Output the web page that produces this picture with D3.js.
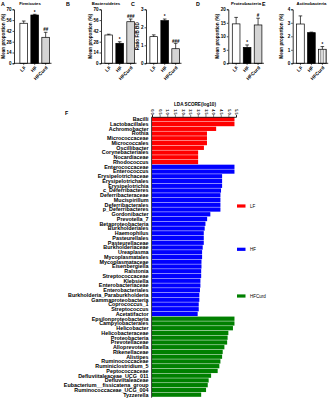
<!DOCTYPE html>
<html><head><meta charset="utf-8">
<script src="https://cdn.jsdelivr.net/npm/d3@7"></script>
<style>body{margin:0;background:#fff}svg{display:block;font-family:"Liberation Sans",Arial,sans-serif}</style>
</head><body><div id="c"></div>
<script>
// ---------- data ----------
const groups = ["LF", "HF", "HFCurd"];
const firmicutes = [51.9, 62.6, 33.7];
const firmicutesErr = [2.9, 0.9, 6.5];
const firmicutesSig = ["", "*", "##"];
const bacteroidetes = [36.7, 25.9, 53.9];
const bacteroidetesErr = [1.0, 2.0, 3.5];
const bacteroidetesSig = ["", "*", "###"];
const ratioFB = [1.48, 2.37, 0.81];
const ratioFBErr = [0.1, 0.09, 0.3];
const ratioFBSig = ["", "*", "###"];
const proteobacteria = [14.6, 5.9, 14.2];
const proteobacteriaErr = [2.4, 0.9, 2.5];
const proteobacteriaSig = ["", "*", "#"];
const actinobacteria = [2.91, 2.27, 1.04];
const actinobacteriaErr = [0.6, 0.04, 0.2];
const actinobacteriaSig = ["", "", "*"];
const ticks70 = [0, 14, 28, 42, 56, 70];
const ticks3 = [0, 1, 2, 3];
const ticks20 = [0, 5, 10, 15, 20];
const ticks4 = [0, 1, 2, 3, 4];

const lfTaxa = ["Bacilli","Lactobacillales","Achromobacter","Rothia","Micrococcaceae","Micrococcales","Oscillibacter","Corynebacteriales","Nocardiaceae","Rhodococcus"];
const lfScores = [5.4, 5.4, 4.2, 3.6, 3.6, 3.6, 3.4, 3.02, 3.02, 3.02];
const hfTaxa = ["Enterococcaceae","Enterococcus","Erysipelotrichaceae","Erysipelotrichales","Erysipelotrichia","c_Deferribacteres","Deferribacteraceae","Mucispirillum","Deferribacterales","p_Deferribacteres","Gordonibacter","Prevotella_7","Betaproteobacteria","Burkholderiales","Haemophilus","Pasteurellales","Pasteurellaceae","Burkholderiaceae","Ureaplasma","Mycoplasmatales","Mycoplasmataceae","Eisenbergiella","Ralstonia","Streptococcaceae","Klebsiella","Enterobacteriaceae","Enterobacteriales","Burkholderia_Paraburkholderia","Gammaproteobacteria","Coprococcus_1","Streptococcus","Acetatifactor"];
const hfScores = [5.4, 5.4, 4.59, 4.59, 4.59, 4.52, 4.48, 4.48, 4.48, 4.48, 3.82, 3.61, 3.5, 3.45, 3.39, 3.39, 3.39, 3.32, 3.28, 3.28, 3.24, 3.24, 3.22, 3.22, 3.17, 3.17, 3.14, 3.1, 3.1, 3.06, 3.06, 2.99];
const hfcTaxa = ["Epsilonproteobacteria","Campylobacterales","Helicobacter","Helicobacteraceae","Proteobacteria","Prevotellaceae","Alloprevotella","Rikenellaceae","Alistipes","Ruminococcaceae","Ruminiclostridium_5","Peptococcaceae","Defluviitaleaceae_UCG_011","Defluviitaleaceae","Eubacterium__fissicatena_group","Ruminococcaceae_UCG_004","Tyzzerella"];
const hfcScores = [5.4, 5.4, 5.3, 5.0, 4.95, 4.92, 4.74, 4.63, 4.59, 4.48, 4.41, 4.3, 3.87, 3.71, 3.65, 3.54, 3.22];
const ldaTicks = [0, 0.5, 1, 1.5, 2, 2.5, 3, 3.5, 4, 4.5, 5, 5.5];
const legendNames = ["LF", "HF", "HFCurd"];

// ---------- drawing ----------
const W = 333, H = 400;
const svg = d3.select("#c").append("svg").attr("width", W).attr("height", H);
const defs = svg.append("defs");
defs.append("pattern").attr("id","vstripe").attr("patternUnits","userSpaceOnUse")
  .attr("width",1.6).attr("height",4)
  .append("rect").attr("width",0.7).attr("height",4).attr("fill","#888");

const panels = [
  {letter:"A", title:"Firmicutes", titleX:30, ylab:"Mean proportion (%)", vals:firmicutes, err:firmicutesErr, sig:firmicutesSig, ticks:ticks70, axisX:14, barX:19.3, curd:"#d4d4d4"},
  {letter:"B", title:"Bacteroidetes", titleX:106, ylab:"Mean proportion (%)", vals:bacteroidetes, err:bacteroidetesErr, sig:bacteroidetesSig, ticks:ticks70, axisX:101, barX:104.3, curd:"#d4d4d4"},
  {letter:"C", title:"", titleX:0, ylab:"Ratio F/B BD", vals:ratioFB, err:ratioFBErr, sig:ratioFBSig, ticks:ticks3, axisX:146, barX:149.3, curd:"#d4d4d4"},
  {letter:"D", title:"Proteobacteria", titleX:246, ylab:"Mean proportion (%)", vals:proteobacteria, err:proteobacteriaErr, sig:proteobacteriaSig, ticks:ticks20, axisX:228.3, barX:231.7, curd:"#d4d4d4"},
  {letter:"E", title:"Actinobacteria", titleX:311.5, ylab:"Mean proportion (%)", vals:actinobacteria, err:actinobacteriaErr, sig:actinobacteriaSig, ticks:ticks4, axisX:292.7, barX:296, curd:"url(#vstripe)"}
];
const letterX = [1, 66, 131, 196, 262];

panels.forEach((p, i) => {
  const g = svg.append("g");
  const yMax = p.ticks[p.ticks.length - 1];
  const y = d3.scaleLinear().domain([0, yMax]).range([63.3, 9.3]);
  const x = d3.scaleBand().domain(groups).range([p.barX - 1.6, p.barX + 32.4]).paddingInner(0.3).paddingOuter(0.2);
  g.append("text").attr("x", letterX[i]).attr("y", 5.5).text(p.letter)
    .attr("font-size", 5.3).attr("font-weight", "bold");
  if (p.title) g.append("text").attr("x", p.titleX).attr("y", 5).text(p.title)
    .attr("font-size", 4.3).attr("font-weight", "bold").attr("text-anchor", "middle");
  // y axis
  const ya = g.append("g").attr("transform", `translate(${p.axisX},0)`)
    .call(d3.axisLeft(y).tickValues(p.ticks).tickSize(1.5).tickPadding(1).tickFormat(d3.format("d")));
  ya.selectAll("text").attr("font-size", 4.6).attr("font-weight","bold").attr("font-family","Liberation Sans, Arial");
  ya.select(".domain").attr("stroke-width", 0.8);
  ya.selectAll(".tick line").attr("stroke-width", 0.7);
  g.append("text").attr("transform", `translate(${p.axisX - (i === 2 ? 7.5 : 9.5)},36.3) rotate(-90)`)
    .attr("text-anchor", "middle").attr("font-size", 4.6).attr("font-weight","bold").text(p.ylab);
  // bars
  const fills = ["#ffffff", "#000000", p.curd];
  g.selectAll("rect.bar").data(p.vals).join("rect").attr("class","bar")
    .attr("x", (d, j) => x(groups[j])).attr("width", x.bandwidth())
    .attr("y", d => y(d)).attr("height", d => y(0) - y(d))
    .attr("fill", (d, j) => fills[j]).attr("stroke", "#000").attr("stroke-width", 0.7);
  // error bars (upward)
  p.vals.forEach((v, j) => {
    const cx = x(groups[j]) + x.bandwidth() / 2;
    const top = y(v + p.err[j]);
    g.append("line").attr("x1", cx).attr("x2", cx).attr("y1", y(v)).attr("y2", top).attr("stroke", "#000").attr("stroke-width", 0.7);
    g.append("line").attr("x1", cx - 1.8).attr("x2", cx + 1.8).attr("y1", top).attr("y2", top).attr("stroke", "#000").attr("stroke-width", 0.7);
    if (p.sig[j]) g.append("text").attr("x", cx).attr("y", top - 0.8).attr("text-anchor","middle")
      .attr("font-size", 4.5).attr("font-weight","bold").text(p.sig[j]);
  });
  // x axis
  const xEnd = x(groups[2]) + x.bandwidth() + 2;
  g.append("line").attr("x1", p.axisX).attr("x2", xEnd).attr("y1", 63.3).attr("y2", 63.3).attr("stroke","#000").attr("stroke-width",0.8);
  groups.forEach((gname) => {
    const cx = x(gname) + x.bandwidth() / 2;
    g.append("line").attr("x1", cx).attr("x2", cx).attr("y1", 63.3).attr("y2", 64.8).attr("stroke","#000").attr("stroke-width",0.7);
    g.append("text").attr("transform", `translate(${cx + 1.5},67) rotate(-45)`)
      .attr("text-anchor","end").attr("dy","0.3em").attr("font-size", 4.8).attr("font-weight","bold").text(gname);
  });
});

// ---------- panel F: LDA ----------
const colors = {LF:"#ff0000", HF:"#0000ff", HFCurd:"#008000"};
const rows = [];
lfTaxa.forEach((t, i) => rows.push({name:t, score:lfScores[i], grp:"LF"}));
hfTaxa.forEach((t, i) => rows.push({name:t, score:hfScores[i], grp:"HF"}));
hfcTaxa.forEach((t, i) => rows.push({name:t, score:hfcScores[i], grp:"HFCurd"}));

const axisY = 116.8;
const fx = d3.scaleLinear().domain([0, 5.5]).range([152, 236]);
const fy = d3.scaleBand().domain(d3.range(rows.length)).range([117.2, 396.8]).paddingInner(0.1);
const F = svg.append("g");
F.append("text").attr("x", 65).attr("y", 115).text("F").attr("font-size", 5.3).attr("font-weight","bold");
F.append("text").attr("x", 195).attr("y", 105.5).attr("text-anchor","middle")
  .attr("font-size", 4.6).attr("font-weight","bold").text("LDA SCORE(log10)");
F.selectAll("rect.lda").data(rows).join("rect").attr("class","lda")
  .attr("x", fx(0)).attr("y", (d, i) => fy(i)).attr("height", fy.bandwidth())
  .attr("width", d => fx(d.score) - fx(0)).attr("fill", d => colors[d.grp]);
F.selectAll("text.lab").data(rows).join("text").attr("class","lab")
  .attr("x", 148.6).attr("y", (d, i) => fy(i) + fy.bandwidth() / 2).attr("dy","0.35em")
  .attr("text-anchor","end").attr("font-size", 5.4).attr("font-weight","bold").text(d => d.name);
const ax = F.append("g").attr("transform", `translate(0,${axisY})`)
  .call(d3.axisTop(fx).tickValues(ldaTicks).tickSize(1.6).tickFormat(d3.format(".1f")));
ax.select(".domain").attr("stroke-width", 0.8);
ax.selectAll(".tick line").attr("stroke-width", 0.6);
ax.selectAll("text").attr("transform","rotate(90)").attr("x", -2.3).attr("y", 0).attr("dy","0.35em")
  .attr("text-anchor","end").attr("font-size", 3.8).attr("font-weight","bold");
F.append("line").attr("x1", 151.6).attr("x2", 151.6).attr("y1", axisY).attr("y2", 397.7).attr("stroke","#000").attr("stroke-width",0.8);

// legend
const legY = [206, 249.3, 296];
legendNames.forEach((n, i) => {
  F.append("rect").attr("x", 237).attr("y", legY[i] - 1.6).attr("width", 8.5).attr("height", 3.2).attr("fill", colors[n]);
  F.append("text").attr("x", 250).attr("y", legY[i]).attr("dy","0.35em").attr("font-size", 4.5).text(n);
});
</script></body></html>
